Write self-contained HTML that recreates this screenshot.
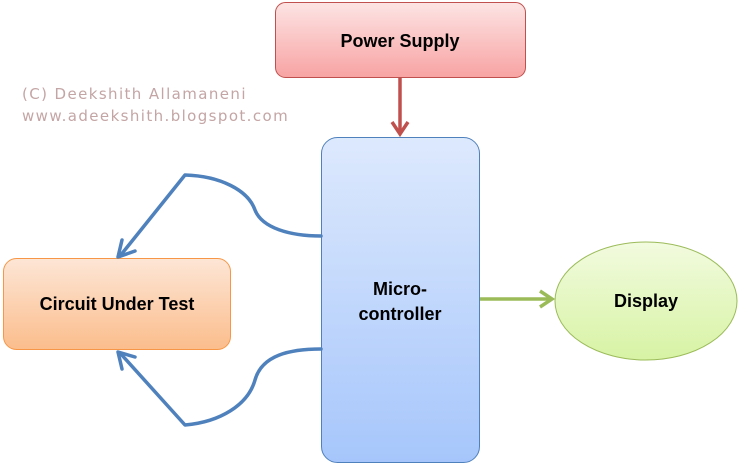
<!DOCTYPE html>
<html><head><meta charset="utf-8"><style>
html,body{margin:0;padding:0;background:#fff;}
body{width:741px;height:469px;position:relative;overflow:hidden;font-family:"Liberation Sans",sans-serif;}
</style></head><body>
<svg width="741" height="469" viewBox="0 0 741 469" xmlns="http://www.w3.org/2000/svg">
<defs>
<linearGradient id="gp" x1="0" y1="0" x2="0" y2="1"><stop offset="0" stop-color="#fde4e4"/><stop offset="1" stop-color="#f8a3a3"/></linearGradient>
<linearGradient id="gm" x1="0" y1="0" x2="0" y2="1"><stop offset="0" stop-color="#dde9fd"/><stop offset="1" stop-color="#a6c6fb"/></linearGradient>
<linearGradient id="go" x1="0" y1="0" x2="0" y2="1"><stop offset="0" stop-color="#fde6d6"/><stop offset="1" stop-color="#fbbd8c"/></linearGradient>
<linearGradient id="gd" x1="0" y1="0" x2="0" y2="1"><stop offset="0" stop-color="#f2fbdf"/><stop offset="1" stop-color="#d7f3a4"/></linearGradient>
</defs>
<text x="22" y="99" font-size="15" letter-spacing="1.4" fill="#c4a5a5" font-family="DejaVu Sans, sans-serif">(C) Deekshith Allamaneni</text>
<text x="22" y="121" font-size="15" letter-spacing="1.4" fill="#c4a5a5" font-family="DejaVu Sans, sans-serif">www.adeekshith.blogspot.com</text>
<rect x="275.5" y="2.5" width="250" height="75" rx="10" fill="url(#gp)" stroke="#c0504d"/>
<text x="400" y="47" text-anchor="middle" font-size="18" font-weight="bold" fill="#000">Power Supply</text>
<line x1="400" y1="78" x2="400" y2="134" stroke="#c0504d" stroke-width="3.5"/>
<polyline points="392,122 400,134 408,122" fill="none" stroke="#c0504d" stroke-width="3.5"/>
<rect x="321.5" y="137.5" width="158" height="325" rx="16" fill="url(#gm)" stroke="#4f81bd"/>
<text x="400" y="295" text-anchor="middle" font-size="18" font-weight="bold" fill="#000">Micro-</text>
<text x="400" y="320" text-anchor="middle" font-size="18" font-weight="bold" fill="#000">controller</text>
<rect x="3.5" y="258.5" width="227" height="91" rx="13" fill="url(#go)" stroke="#f79646"/>
<text x="117" y="310" text-anchor="middle" font-size="18" font-weight="bold" fill="#000">Circuit Under Test</text>
<ellipse cx="646" cy="301" rx="91" ry="59" fill="url(#gd)" stroke="#9bbb59"/>
<text x="646" y="307" text-anchor="middle" font-size="18" font-weight="bold" fill="#000">Display</text>
<line x1="480" y1="299" x2="551" y2="299" stroke="#9bbb59" stroke-width="3.5"/>
<polyline points="540,291 552,299 540,307" fill="none" stroke="#9bbb59" stroke-width="3.5"/>
<g fill="none" stroke="#4f81bd" stroke-width="3.5" stroke-linecap="round" stroke-linejoin="round">
<path d="M321,236 C290,236 262,228 255,210 C248,190 220,176 185,175 L120,256"/>
<polyline points="122,240 118,257 135,251"/>
<path d="M321,349 C290,349 262,355 255,380 C248,405 220,422 185,425 L120,353"/>
<polyline points="122,369 118,352 135,357"/>
</g>
</svg>
</body></html>
